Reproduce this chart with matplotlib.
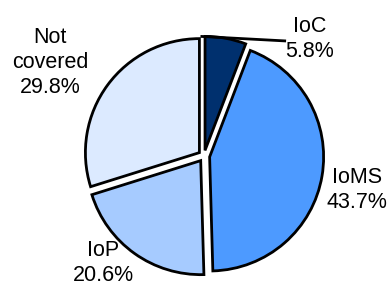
import matplotlib
matplotlib.use("Agg")
import matplotlib.pyplot as plt
import numpy as np

categories = ["IoC", "IoMS", "IoP", "Not\ncovered"]
shares = [5.8, 43.7, 20.6, 29.8]
colors = ["#00306e", "#4d9aff", "#a6cbff", "#dceaff"]

# label anchor points in data units (pie radius = 1)
label_pos = [(0.93, 1.03), (1.342, -0.298), (-0.886, -0.94), (-1.351, 0.82)]

plt.rcParams["font.family"] = ["Liberation Sans", "DejaVu Sans"]

fig = plt.figure(figsize=(3.9, 2.84), dpi=100)
ax = fig.add_axes([0, 0, 1, 1])

explode = 0.05
wedges, _ = ax.pie(
    shares,
    colors=colors,
    startangle=90,
    counterclock=False,
    explode=[explode] * len(shares),
    wedgeprops=dict(edgecolor="black", linewidth=2),
)

for name, val, (x, y) in zip(categories, shares, label_pos):
    ax.text(x, y, f"{name}\n{val:.1f}%", ha="center", va="center",
            fontsize=15.5, linespacing=1.25, color="black")

# leader line for the small IoC slice, starting at its top edge
w = wedges[0]
mid = np.deg2rad((w.theta1 + w.theta2) / 2)
x0 = explode * np.cos(mid) - 0.04
y0 = explode * np.sin(mid) + 1.0
ax.plot([x0, 0.72], [y0, 1.009], color="black", lw=2, solid_capstyle="butt")

scale = 114
ax.set_xlim(-204 / scale, (390 - 204) / scale)
ax.set_ylim(-128 / scale, 156 / scale)
ax.set_aspect("equal")
ax.axis("off")

fig.savefig("out.png", dpi=100)
